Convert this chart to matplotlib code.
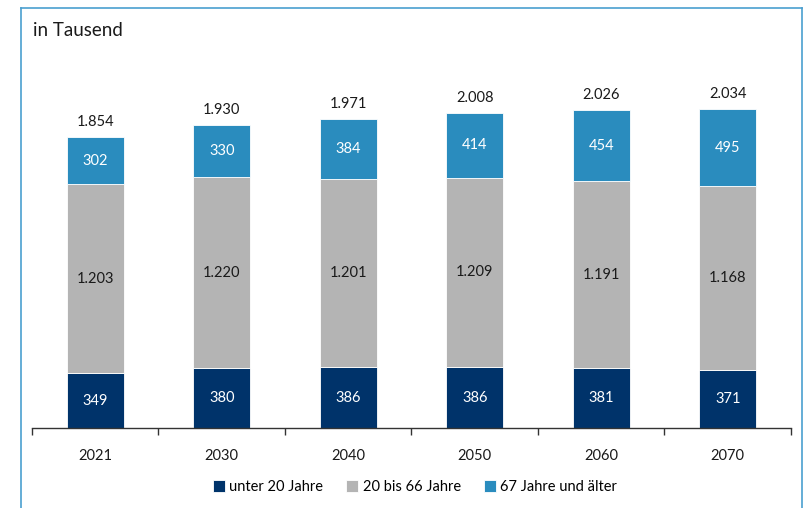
import matplotlib
matplotlib.use("Agg")
import matplotlib.pyplot as plt
from matplotlib.lines import Line2D
import numpy as np

years = ["2021", "2030", "2040", "2050", "2060", "2070"]
under20 = [349, 380, 386, 386, 381, 371]
mid = [1203, 1220, 1201, 1209, 1191, 1168]
old = [302, 330, 384, 414, 454, 495]
totals = ["1.854", "1.930", "1.971", "2.008", "2.026", "2.034"]
series_names = ["unter 20 Jahre", "20 bis 66 Jahre", "67 Jahre und älter"]
colors = ["#00336A", "#B4B4B4", "#2A8CBE"]
label_colors = ["white", "#1a1a1a", "white"]

plt.rcParams['font.family'] = ['Lato', 'DejaVu Sans']

W, H = 804, 508
fig = plt.figure(figsize=(W/100, H/100), dpi=100)
ax = fig.add_axes([32/W, 1-428/H, (791-32)/W, (428-35.5)/H])

def fmt(v):
    return f"{v:,}".replace(",", ".")

FS = 10.5
x = np.arange(len(years))
bw = 0.45
bottoms = np.zeros(len(years))
for vals, c, lc, name in zip([under20, mid, old], colors, label_colors, series_names):
    vals = np.array(vals)
    ax.bar(x, vals, bw, bottom=bottoms, color=c, edgecolor="white", linewidth=0.6, label=name)
    for xi, v, b in zip(x, vals, bottoms):
        ax.text(xi, b + v/2, fmt(int(v)), ha="center", va="center", color=lc, fontsize=FS)
    bottoms = bottoms + vals

for xi, t, b in zip(x, totals, bottoms):
    ax.annotate(t, (xi, b), xytext=(0, 5.5), textcoords="offset points", ha="center", va="bottom",
                fontsize=FS, color="#1a1a1a")

ax.set_xlim(-0.5, len(years)-0.5)
ax.set_ylim(0, 2500)
ax.set_yticks([])
ax.set_xticks(np.arange(-0.5, len(years)), minor=False)
ax.set_xticklabels([])
ax.set_xticks(x, minor=True)
ax.set_xticklabels(years, minor=True, fontsize=FS, color="#1a1a1a")
ax.tick_params(axis="x", which="major", length=5, width=1, color="#333333", direction="out")
ax.tick_params(axis="x", which="minor", length=0, pad=15)
for s in ["top", "right", "left"]:
    ax.spines[s].set_visible(False)
ax.spines["bottom"].set_color("#333333")
ax.spines["bottom"].set_linewidth(1)

fig.text(33/W, 1-30/H, "in Tausend", fontsize=13.5, va="center", ha="left", color="#1a1a1a")

frame_c = "#4A9FCF"
fig.add_artist(Line2D([21/W, 21/W], [0, 1-8/H], color=frame_c, lw=1.2))
fig.add_artist(Line2D([21/W, 802/W], [1-8/H, 1-8/H], color=frame_c, lw=1.2))
fig.add_artist(Line2D([802/W, 802/W], [0, 1-8/H], color=frame_c, lw=1.2))

handles, labels = ax.get_legend_handles_labels()
fig.legend(handles, labels, loc="center", bbox_to_anchor=(415/W, 1-487/H), ncol=3, frameon=False,
           fontsize=FS, handlelength=0.8, handleheight=0.8, handletextpad=0.3, columnspacing=1.6)

fig.savefig("out.png", dpi=100)
